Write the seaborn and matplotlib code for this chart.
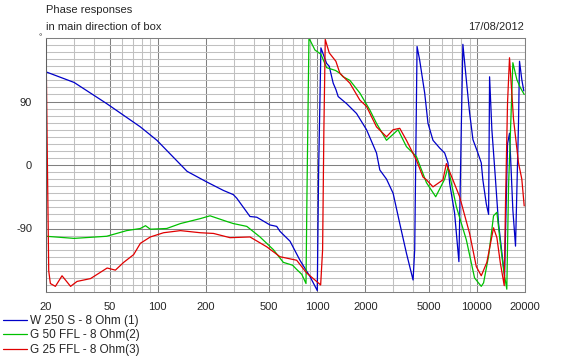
import numpy as np
import pandas as pd
import matplotlib
matplotlib.use("Agg")
import matplotlib.pyplot as plt
import seaborn as sns

# ---------------- data (frequency in Hz, phase in degrees) ----------------
series_names = ["W 250 S - 8 Ohm (1)", "G 50 FFL - 8 Ohm(2)", "G 25 FFL - 8 Ohm(3)"]
series_colors = ["#0000C8", "#00C000", "#E00000"]

w250_freq = [20, 30, 48, 78, 99, 153, 203, 258, 298, 313, 379, 418, 506, 557, 584,
             675, 779, 900, 1000, 1020, 1054, 1144, 1188, 1258, 1308, 1352, 1526,
             1762, 2035, 2350, 2464, 2714, 2985, 3286, 3618, 3981, 4076, 4217, 4376,
             4707, 4938, 5306, 5846, 6280, 6586, 6748, 7244, 7710, 7982, 8166, 8580,
             8996, 9440, 10140, 10644, 10890, 11442, 11832, 12000, 12404, 13024,
             13646, 14322, 14894, 15546, 16000, 16790, 17444, 18212, 18478, 19100,
             19658]
w250_phase = [132, 117, 87, 54, 35, -9, -24, -36, -42, -47, -73, -74, -85, -87, -94,
              -108, -135, -158, -178, -6, 166, 144, 140, 116, 107, 97, 87,
              73, 50, 17, -7, -20, -40, -83, -125, -163, -120, 168, 149,
              102, 59, 35, 24, 17, 3, -26, -68, -137, 54, 171, 121,
              74, 36, 17, 3, -21, -55, -70, 125, 50, -16,
              -82, -124, -157, 30, 45, -64, -115, 60, 147, 121,
              105]

g50_freq = [20, 30, 48, 64, 78, 84, 90, 114, 139, 185, 213, 271, 298, 362, 438, 531,
            613, 700, 743, 800, 850, 862, 887, 967, 1054, 1144, 1300, 1386, 1452,
            1600, 1848, 2134, 2350, 2714, 3206, 3618, 4178, 4827, 5518, 6280, 6586,
            7430, 8580, 9662, 10644, 11006, 11832, 12706, 13336, 13996, 14676,
            15382, 15776, 16790, 17784, 18666, 19772]
g50_phase = [-101, -104, -101, -93, -90, -86, -91, -90, -83, -76, -72, -80, -83, -87,
             -102, -120, -138, -142, -148, -155, -168, -40, 180, 163, 157, 138, 134,
             130, 125, 120, 102, 78, 59, 35, 50, 26, 12, -25, -45, -20, -3,
             -59, -106, -160, -172, -167, -129, -72, -67, -110, -148,
             -176, -30, 145, 121, 110, 100]

g25_freq = [20, 20.3, 20.8, 21.3, 22.9, 25.2, 28.5, 31.3, 38, 48.3, 54.4, 61.3, 70.8,
            78, 90, 109, 139, 185, 224, 284, 379, 483, 584, 743, 858, 967, 1050,
            1080, 1100, 1122, 1188, 1308, 1386, 1600, 1848, 2035, 2350, 2714, 2985,
            3286, 3618, 4178, 4592, 4827, 5306, 6128, 6436, 7792, 8996, 9910, 10644,
            11536, 12706, 13336, 13996, 14826, 15102, 15546, 15996, 16946, 18212,
            19100, 19772]
g25_phase = [175, 45, -150, -168, -172, -157, -172, -165, -161, -146, -149, -138, -127,
             -111, -102, -96, -93, -96, -97, -103, -102, -116, -130, -135, -153, -163,
             -170, -120, 50, 178, 159, 147, 130, 116, 92, 83, 54, 40, 50,
             52, 35, 7, -17, -21, -31, -21, 2, -45, -97, -144, -157,
             -138, -89, -103, -138, -171, -53, 88, 152, 65, 3,
             -20, -58]

x_tick_values = [20, 50, 100, 200, 500, 1000, 2000, 5000, 10000, 20000]
x_tick_labels = ["20", "50", "100", "200", "500", "1000", "2000", "5000", "10000", "20000"]
y_tick_values = [-90, 0, 90]
y_tick_labels = ["-90", "0", "90"]

title_line1 = "Phase responses"
title_line2 = "in main direction of box"
date_text = "17/08/2012"
unit_text = "°"

# ---------------- build long table ----------------
frames = []
for name, f, p in [(series_names[0], w250_freq, w250_phase),
                   (series_names[1], g50_freq, g50_phase),
                   (series_names[2], g25_freq, g25_phase)]:
    frames.append(pd.DataFrame({"freq": f, "phase": p, "series": name}))
df = pd.concat(frames, ignore_index=True)

# ---------------- style ----------------
sns.set_style("white")
plt.rcParams["font.family"] = ["Liberation Sans", "DejaVu Sans"]
plt.rcParams["font.size"] = 8

W, H = 570, 356
fig = plt.figure(figsize=(W / 100, H / 100), dpi=100)
ax = fig.add_axes([46 / W, 1 - 292 / H, (525 - 46) / W, (292 - 38) / H])

minor_x = [m * 10 ** e for e in range(1, 5) for m in range(1, 10)
           if 20 <= m * 10 ** e <= 20000 and m * 10 ** e not in x_tick_values]
ax.set_xscale("log")
ax.set_xlim(20, 20000)
ax.set_ylim(-180, 180)
ax.set_xticks(x_tick_values)
ax.set_xticklabels(x_tick_labels)
ax.set_xticks(minor_x, minor=True)
ax.set_xticklabels([], minor=True)
ax.set_yticks(y_tick_values)
ax.set_yticklabels(y_tick_labels)
ax.set_yticks([v for v in range(-170, 180, 10) if v % 90 != 0], minor=True)

ax.grid(which="minor", color="#c0c0c0", lw=0.75)
ax.grid(which="major", color="#808080", lw=0.75)
ax.set_axisbelow(True)
ax.tick_params(which="minor", length=0)
ax.tick_params(which="major", axis="x", length=5, width=0.75, color="#808080", pad=2,
               labelsize=8)
ax.tick_params(which="major", axis="y", length=6, width=0.75, color="#404040", pad=4,
               labelsize=8)
for s in ax.spines.values():
    s.set_color("#808080")
    s.set_linewidth(0.75)
ax.spines["left"].set_color("#606060")

for name, col in zip(series_names, series_colors):
    sub = df[df["series"] == name]
    sns.lineplot(x=sub["freq"].values, y=sub["phase"].values, sort=False,
                 estimator=None, color=col, lw=0.9, ax=ax, label=name)

ax.set_xlabel("")
ax.set_ylabel("")

handles, labels = ax.get_legend_handles_labels()
ax.legend(handles, labels, loc="upper left", bbox_to_anchor=(3 / W, 1 - 315 / H),
          bbox_transform=fig.transFigure, frameon=False, handlelength=2.0,
          handletextpad=0.3, labelspacing=0.2, borderpad=0, borderaxespad=0,
          fontsize=8.5)

fig.text(46 / W, 1 - 10 / H, title_line1, ha="left", va="center", fontsize=8)
fig.text(46 / W, 1 - 27 / H, title_line2, ha="left", va="center", fontsize=8)
fig.text(524 / W, 1 - 27 / H, date_text, ha="right", va="center", fontsize=8)
fig.text(40 / W, 1 - 38 / H, unit_text, ha="center", va="center", fontsize=6)

fig.savefig("out.png", dpi=100)
